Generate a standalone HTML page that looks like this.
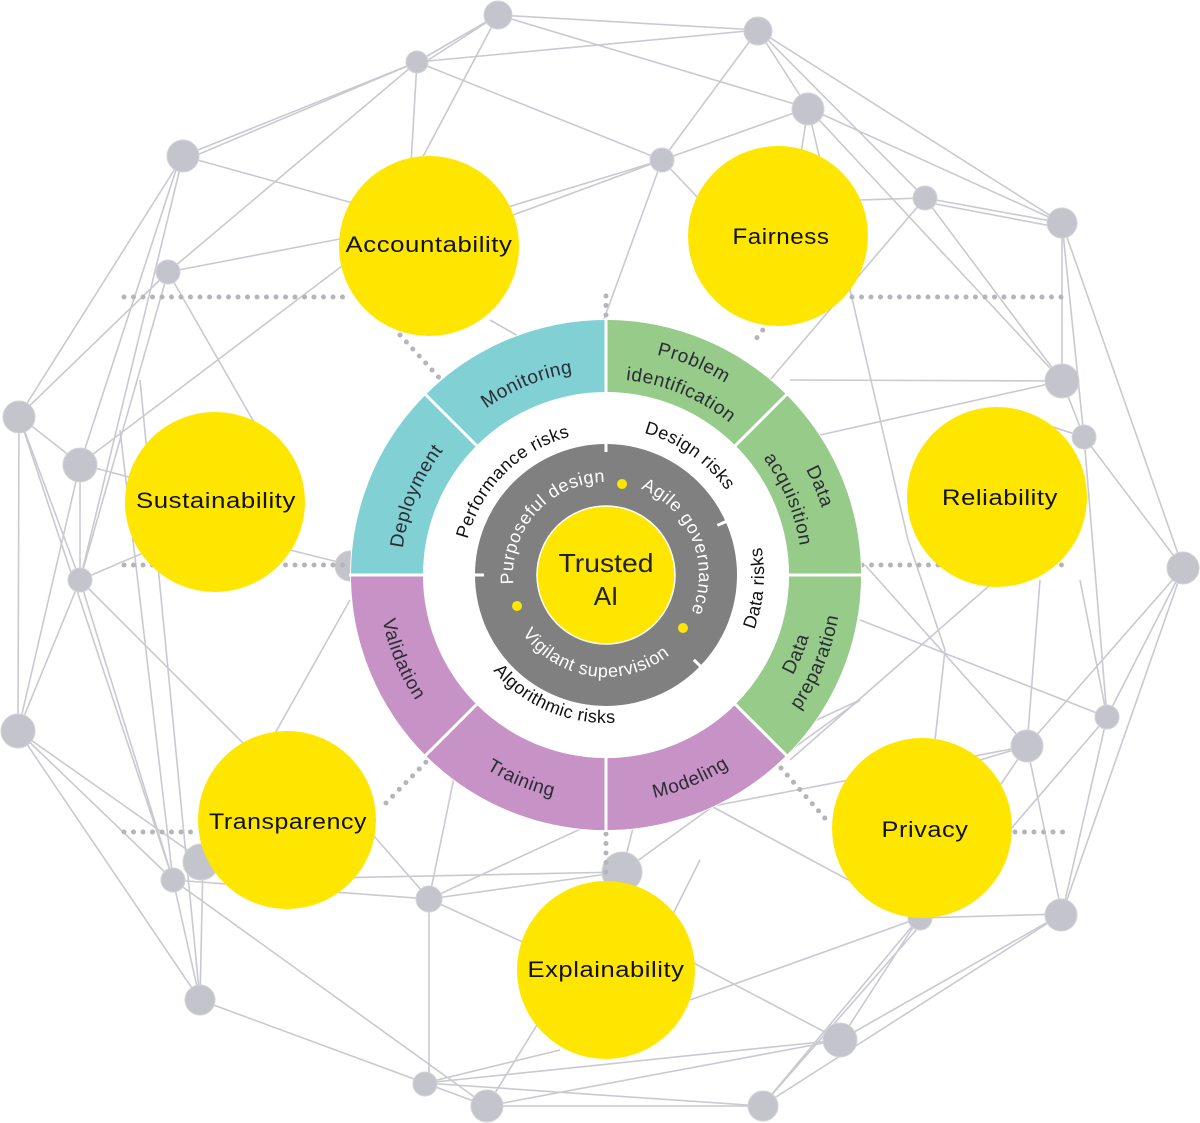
<!DOCTYPE html>
<html><head><meta charset="utf-8"><style>
html,body{margin:0;padding:0;background:#fff;}
svg{display:block;}
text{font-family:"Liberation Sans",sans-serif;}
</style></head><body>
<svg width="1200" height="1123" viewBox="0 0 1200 1123" xmlns="http://www.w3.org/2000/svg">
<g stroke="#c9c9d1" stroke-width="1.6" fill="none">
<line x1="498" y1="15" x2="417" y2="62"/><line x1="498" y1="15" x2="419" y2="66"/>
<line x1="498" y1="15" x2="758" y2="30"/><line x1="498" y1="15" x2="808" y2="108"/>
<line x1="498" y1="15" x2="400" y2="200"/>
<line x1="417" y1="62" x2="183" y2="156"/><line x1="417" y1="62" x2="185" y2="160"/>
<line x1="417" y1="62" x2="168" y2="272"/><line x1="417" y1="62" x2="662" y2="160"/>
<line x1="417" y1="62" x2="758" y2="30"/><line x1="417" y1="62" x2="410" y2="180"/>
<line x1="183" y1="156" x2="360" y2="205"/><line x1="183" y1="156" x2="19" y2="416"/>
<line x1="183" y1="156" x2="80" y2="580"/><line x1="176" y1="170" x2="80" y2="464"/>
<line x1="168" y1="272" x2="345" y2="238"/><line x1="168" y1="272" x2="19" y2="416"/>
<line x1="168" y1="272" x2="80" y2="580"/><line x1="168" y1="272" x2="270" y2="450"/>
<line x1="19" y1="416" x2="80" y2="464"/><line x1="19" y1="416" x2="18" y2="731"/>
<line x1="19" y1="416" x2="80" y2="580"/><line x1="80" y1="464" x2="350" y2="260"/>
<line x1="80" y1="464" x2="140" y2="480"/><line x1="80" y1="464" x2="18" y2="731"/>
<line x1="80" y1="464" x2="80" y2="580"/><line x1="80" y1="580" x2="18" y2="731"/>
<line x1="80" y1="580" x2="173" y2="880"/><line x1="80" y1="580" x2="150" y2="550"/>
<line x1="80" y1="580" x2="260" y2="760"/><line x1="19" y1="416" x2="173" y2="880"/>
<line x1="18" y1="731" x2="173" y2="880"/><line x1="18" y1="731" x2="200" y2="1000"/>
<line x1="18" y1="731" x2="203" y2="861"/><line x1="140" y1="380" x2="200" y2="1000"/>
<line x1="120" y1="430" x2="173" y2="880"/><line x1="173" y1="880" x2="200" y2="1000"/>
<line x1="173" y1="880" x2="429" y2="899"/><line x1="173" y1="880" x2="487" y2="1106"/>
<line x1="200" y1="1000" x2="425" y2="1083"/><line x1="203" y1="861" x2="200" y2="1000"/>
<line x1="429" y1="899" x2="622" y2="872"/><line x1="429" y1="899" x2="429" y2="1083"/>
<line x1="429" y1="899" x2="540" y2="950"/><line x1="429" y1="899" x2="360" y2="820"/>
<line x1="429" y1="899" x2="470" y2="700"/><line x1="429" y1="899" x2="860" y2="700"/>
<line x1="230" y1="880" x2="622" y2="872"/><line x1="622" y1="872" x2="860" y2="700"/>
<line x1="622" y1="872" x2="640" y2="800"/><line x1="640" y1="820" x2="1027" y2="746"/>
<line x1="700" y1="800" x2="919" y2="918"/><line x1="700" y1="860" x2="660" y2="940"/>
<line x1="425" y1="1083" x2="487" y2="1106"/><line x1="425" y1="1083" x2="762" y2="1106"/>
<line x1="425" y1="1083" x2="560" y2="1050"/><line x1="487" y1="1106" x2="762" y2="1106"/>
<line x1="487" y1="1106" x2="540" y2="1020"/><line x1="487" y1="1106" x2="840" y2="1040"/>
<line x1="425" y1="1083" x2="840" y2="1040"/><line x1="762" y1="1106" x2="919" y2="918"/>
<line x1="762" y1="1106" x2="925" y2="920"/><line x1="762" y1="1106" x2="1062" y2="914"/>
<line x1="840" y1="1040" x2="650" y2="940"/><line x1="840" y1="1040" x2="919" y2="918"/>
<line x1="840" y1="1040" x2="1062" y2="914"/><line x1="919" y1="918" x2="690" y2="1000"/>
<line x1="919" y1="918" x2="1062" y2="914"/><line x1="1062" y1="914" x2="1027" y2="746"/>
<line x1="1062" y1="914" x2="1107" y2="717"/><line x1="1062" y1="914" x2="1183" y2="568"/>
<line x1="1027" y1="746" x2="980" y2="760"/><line x1="1027" y1="746" x2="1183" y2="568"/>
<line x1="1027" y1="746" x2="1040" y2="580"/><line x1="1027" y1="746" x2="990" y2="800"/>
<line x1="1107" y1="717" x2="1010" y2="830"/><line x1="1107" y1="717" x2="1084" y2="437"/>
<line x1="1107" y1="717" x2="1183" y2="568"/><line x1="1107" y1="717" x2="1080" y2="580"/>
<line x1="860" y1="620" x2="1107" y2="717"/><line x1="865" y1="565" x2="1027" y2="746"/>
<line x1="790" y1="760" x2="990" y2="585"/><line x1="945" y1="650" x2="935" y2="740"/>
<line x1="945" y1="650" x2="908" y2="540"/><line x1="908" y1="540" x2="808" y2="108"/>
<line x1="1183" y1="568" x2="1084" y2="437"/><line x1="1183" y1="568" x2="1062" y2="223"/>
<line x1="1084" y1="437" x2="1062" y2="381"/><line x1="1084" y1="437" x2="1062" y2="223"/>
<line x1="1084" y1="437" x2="1000" y2="410"/><line x1="1062" y1="381" x2="1062" y2="223"/>
<line x1="1062" y1="381" x2="808" y2="108"/><line x1="1062" y1="381" x2="790" y2="380"/>
<line x1="1062" y1="381" x2="820" y2="435"/><line x1="1062" y1="381" x2="925" y2="198"/>
<line x1="1062" y1="223" x2="925" y2="198"/><line x1="1062" y1="228" x2="925" y2="202"/>
<line x1="1062" y1="223" x2="758" y2="30"/><line x1="1062" y1="223" x2="808" y2="108"/>
<line x1="925" y1="198" x2="758" y2="30"/><line x1="925" y1="198" x2="770" y2="380"/>
<line x1="925" y1="198" x2="860" y2="200"/><line x1="808" y1="108" x2="758" y2="30"/>
<line x1="808" y1="108" x2="662" y2="160"/><line x1="808" y1="108" x2="800" y2="160"/>
<line x1="662" y1="160" x2="758" y2="30"/><line x1="662" y1="160" x2="700" y2="200"/>
<line x1="662" y1="160" x2="600" y2="330"/><line x1="662" y1="160" x2="429" y2="246"/>
<line x1="662" y1="160" x2="400" y2="240"/><line x1="490" y1="320" x2="560" y2="360"/>
<line x1="290" y1="550" x2="350" y2="565"/>
<line x1="260" y1="760" x2="350" y2="600"/>
</g>
<g fill="#c4c4cc" stroke="#d2d2d8" stroke-width="1">
<circle cx="498" cy="15" r="14"/><circle cx="758" cy="31" r="14"/><circle cx="417" cy="62" r="11"/>
<circle cx="808" cy="109" r="16"/><circle cx="183" cy="156" r="16"/><circle cx="662" cy="160" r="12"/>
<circle cx="925" cy="198" r="12"/><circle cx="1062" cy="223" r="15"/><circle cx="168" cy="272" r="12"/>
<circle cx="1062" cy="381" r="17"/><circle cx="1084" cy="437" r="12"/><circle cx="19" cy="417" r="16"/>
<circle cx="80" cy="465" r="17"/><circle cx="80" cy="580" r="12"/><circle cx="1183" cy="568" r="16"/>
<circle cx="18" cy="731" r="17"/><circle cx="1107" cy="717" r="12"/><circle cx="1027" cy="746" r="16"/>
<circle cx="201" cy="862" r="18"/><circle cx="173" cy="880" r="12"/><circle cx="429" cy="899" r="13"/>
<circle cx="622" cy="872" r="20"/><circle cx="1061" cy="915" r="16"/><circle cx="920" cy="918" r="12"/>
<circle cx="200" cy="1000" r="15"/><circle cx="840" cy="1040" r="17"/><circle cx="425" cy="1084" r="12"/>
<circle cx="487" cy="1106" r="16"/><circle cx="763" cy="1106" r="15"/><circle cx="350" cy="566" r="15"/>
</g>
<g stroke="#b4b4bc" stroke-width="5" stroke-linecap="round" stroke-dasharray="0 9.5" fill="none">
<line x1="124" y1="297" x2="345" y2="297"/><line x1="852" y1="297" x2="1070" y2="297"/>
<line x1="124" y1="565" x2="352" y2="565"/><line x1="862" y1="565" x2="1070" y2="565"/>
<line x1="124" y1="832" x2="200" y2="832"/><line x1="1015" y1="832" x2="1070" y2="832"/>
<line x1="400" y1="335" x2="443" y2="382"/><line x1="786" y1="300" x2="752" y2="344"/>
<line x1="386" y1="803" x2="430" y2="758"/><line x1="781" y1="768" x2="830" y2="824"/>
<line x1="606" y1="834" x2="606" y2="880"/><line x1="606" y1="296" x2="606" y2="318"/>
</g>
<g fill="#ffe600">
<circle cx="429" cy="246" r="90"/><circle cx="778" cy="236" r="90"/><circle cx="215" cy="502" r="90"/>
<circle cx="997" cy="497" r="90"/><circle cx="287" cy="820" r="89"/><circle cx="922" cy="828" r="90"/>
<circle cx="606" cy="970" r="89"/>
</g>
<g font-size="22" fill="#111" text-anchor="middle" letter-spacing="0.5">
<text x="429" y="252" textLength="167" lengthAdjust="spacingAndGlyphs">Accountability</text>
<text x="781" y="244" textLength="97" lengthAdjust="spacingAndGlyphs">Fairness</text>
<text x="216" y="508" textLength="160" lengthAdjust="spacingAndGlyphs">Sustainability</text>
<text x="1000" y="505" textLength="116" lengthAdjust="spacingAndGlyphs">Reliability</text>
<text x="288" y="829" textLength="158" lengthAdjust="spacingAndGlyphs">Transparency</text>
<text x="925" y="837" textLength="87" lengthAdjust="spacingAndGlyphs">Privacy</text>
<text x="606" y="977" textLength="157" lengthAdjust="spacingAndGlyphs">Explainability</text>
</g>
<circle cx="606" cy="575" r="256" fill="#fff"/>
<g fill="none" stroke-width="72">
<path d="M387 575 A219 219 0 0 1 606 356" stroke="#80d0d4"/>
<path d="M606 356 A219 219 0 0 1 760.9 729.9" stroke="#96cb8a"/>
<path d="M760.9 729.9 A219 219 0 0 1 387 575" stroke="#c792c6"/>
</g>
<g stroke="#fff" stroke-width="3">
<line x1="606" y1="392" x2="606" y2="318"/><line x1="735.4" y1="445.6" x2="788" y2="393"/>
<line x1="789" y1="575" x2="863" y2="575"/><line x1="735.4" y1="704.4" x2="788" y2="757"/>
<line x1="606" y1="758" x2="606" y2="832"/><line x1="476.6" y1="704.4" x2="424" y2="757"/>
<line x1="423" y1="575" x2="349" y2="575"/><line x1="476.6" y1="445.6" x2="424" y2="393"/>
</g>
<circle cx="606" cy="575" r="100" fill="none" stroke="#808080" stroke-width="62"/>
<circle cx="606" cy="575" r="69" fill="#ffe600" stroke="#fff" stroke-width="1.5"/>
<g stroke="#fff" stroke-width="3">
<line x1="606" y1="452" x2="606" y2="441"/><line x1="484" y1="575" x2="473" y2="575"/>
<line x1="717.4" y1="525.4" x2="727.5" y2="520.9"/><line x1="693.8" y1="659.8" x2="701.7" y2="667.4"/>
</g>
<g fill="#ffe600"><circle cx="622" cy="484" r="5"/><circle cx="683" cy="628" r="5"/><circle cx="517" cy="606" r="5"/></g>
<defs>
<path id="pMon" d="M461 430 A205 205 0 0 1 606 370"/>
<path id="pPr1" d="M606 349 A226 226 0 0 1 765.8 415.2"/>
<path id="pPr2" d="M606 379 A196 196 0 0 1 744.6 436.4"/>
<path id="pDa1" d="M765.8 415.2 A226 226 0 0 1 832 575"/>
<path id="pDa2" d="M744.6 436.4 A196 196 0 0 1 802 575"/>
<path id="pDep" d="M401 575 A205 205 0 0 1 461 430"/>
<path id="pDp1" d="M755.9 724.9 A212 212 0 0 0 818 575"/>
<path id="pDp2" d="M772.9 741.9 A236 236 0 0 0 842 575"/>
<path id="pMod" d="M606 803 A228 228 0 0 0 767.2 736.2"/>
<path id="pTra" d="M444.8 736.2 A228 228 0 0 0 606 803"/>
<path id="pVal" d="M378 575 A228 228 0 0 0 444.8 736.2"/>
<path id="pPer" d="M463 575 A143 143 0 0 1 606 432"/>
<path id="pDes" d="M580.5 430.2 A147 147 0 0 1 750.8 549.5"/>
<path id="pDr" d="M707.6 696 A158 158 0 0 0 727 473.4"/>
<path id="pAlg" d="M468.8 630.4 A148 148 0 0 0 661.4 712.2"/>
<path id="pPur" d="M513.1 579.9 A93 93 0 0 1 601.1 482.1"/>
<path id="pAgi" d="M642.3 489.4 A93 93 0 0 1 691.6 611.3"/>
<path id="pVig" d="M524.5 636.4 A102 102 0 0 0 667.4 656.5"/>
</defs>
<g font-size="19" fill="#2b2b35" text-anchor="middle" letter-spacing="0.6">
<text><textPath href="#pMon" startOffset="50%">Monitoring</textPath></text>
<text><textPath href="#pPr1" startOffset="50%">Problem</textPath></text>
<text><textPath href="#pPr2" startOffset="50%">identification</textPath></text>
<text><textPath href="#pDa1" startOffset="50%">Data</textPath></text>
<text><textPath href="#pDa2" startOffset="50%">acquisition</textPath></text>
<text><textPath href="#pDep" startOffset="50%">Deployment</textPath></text>
<text><textPath href="#pDp1" startOffset="50%">Data</textPath></text>
<text><textPath href="#pDp2" startOffset="50%">preparation</textPath></text>
<text><textPath href="#pMod" startOffset="50%">Modeling</textPath></text>
<text><textPath href="#pTra" startOffset="50%">Training</textPath></text>
<text><textPath href="#pVal" startOffset="50%">Validation</textPath></text>
</g>
<g font-size="18" fill="#111" text-anchor="middle" letter-spacing="0.4">
<text><textPath href="#pPer" startOffset="50%">Performance risks</textPath></text>
<text><textPath href="#pDes" startOffset="50%">Design risks</textPath></text>
<text><textPath href="#pDr" startOffset="50%">Data risks</textPath></text>
<text><textPath href="#pAlg" startOffset="50%">Algorithmic risks</textPath></text>
</g>
<g font-size="18" fill="#fff" text-anchor="middle" letter-spacing="0.6">
<text><textPath href="#pPur" startOffset="50%">Purposeful design</textPath></text>
<text><textPath href="#pAgi" startOffset="50%">Agile governance</textPath></text>
<text><textPath href="#pVig" startOffset="50%">Vigilant supervision</textPath></text>
</g>
<g font-size="26" fill="#222" text-anchor="middle">
<text x="606" y="572" textLength="95" lengthAdjust="spacingAndGlyphs">Trusted</text>
<text x="606" y="605">AI</text>
</g>
</svg>
</body></html>
